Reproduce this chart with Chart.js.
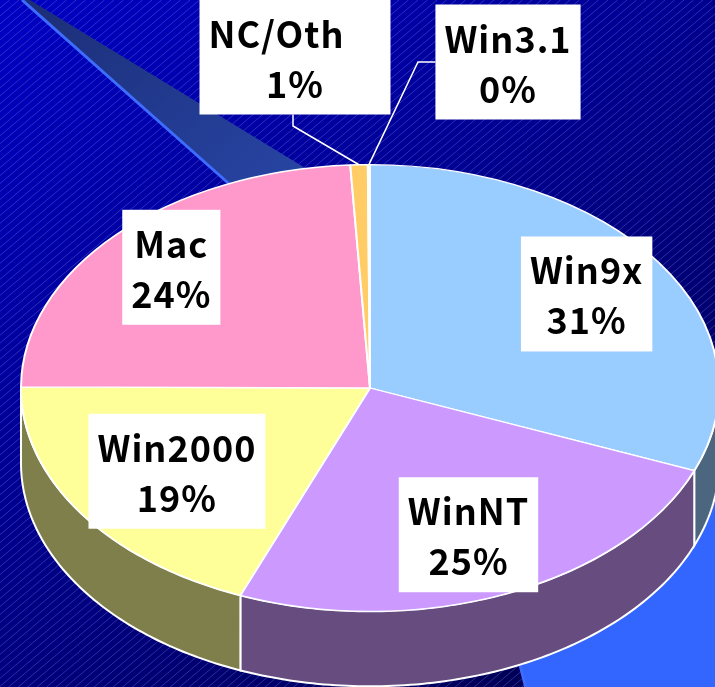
<!DOCTYPE html>
<html>
<head>
<meta charset="utf-8">
<script src="https://cdn.jsdelivr.net/npm/chart.js@4.4.1/dist/chart.umd.min.js"></script>
<style>
  html, body { margin: 0; padding: 0; width: 715px; height: 687px; overflow: hidden; background: #00008c; }
  #wrap { position: absolute; left: 0; top: 0; width: 740px; height: 776px; }
</style>
</head>
<body>
<div id="wrap"><canvas id="chart" width="740" height="776"></canvas></div>
<script>
const categories = ["Win9x", "WinNT", "Win2000", "Mac", "NC/Oth", "Win3.1"];
const shares = [31, 25, 19, 24, 0.8, 0.1];
const topColors = ["#99CCFF", "#CC99FF", "#FFFF99", "#FF99CC", "#FFCC66", "#FFFFFF"];

// where each label goes: inside ones ride the slice's mid angle,
// the two thin slices get a box up top and a leader line
const labelSpots = [
  { r: 0.75 }, { r: 0.715 }, { r: 0.667 }, { r: 0.785 },
  { box: [295, 57], elbow: [293, 126], trail: "\u3000" },
  { box: [508, 62], elbow: [418, 62] },
];

const TILT = 0.64;   // vertical squash of the pie top
const DEPTH = 75;    // thickness of the 3d rim
const FONT = 'bold 36px "Noto Sans CJK JP"';
const PAD_X = 9;
const BOX_H = 115;

function darken(hex) {
  const n = parseInt(hex.slice(1), 16);
  const r = (n >> 16) >> 1, g = ((n >> 8) & 255) >> 1, b = (n & 255) >> 1;
  return `rgb(${r},${g},${b})`;
}

function rimPoint(el, t, dy) {
  return [el.x + el.outerRadius * Math.cos(t), el.y + el.outerRadius * TILT * Math.sin(t) + dy];
}

function beamEdge(ctx) {
  ctx.moveTo(22, 0);
  ctx.lineTo(227, 182);
  ctx.quadraticCurveTo(470, 400, 535, 730);
}

const backdrop = {
  id: "backdrop",
  beforeDraw(chart) {
    const ctx = chart.ctx;
    const w = chart.width, h = chart.height;
    ctx.save();
    const g = ctx.createLinearGradient(0, 0, 500, 700);
    g.addColorStop(0, "#0000c4");
    g.addColorStop(1, "#000058");
    ctx.fillStyle = g;
    ctx.fillRect(0, 0, w, h);

    // thin diagonal hatch
    ctx.strokeStyle = "rgba(170,180,255,0.26)";
    ctx.lineWidth = 1;
    const run = h / 0.84;
    for (let c = 0; c < w + run; c += 9.5) {
      ctx.beginPath();
      ctx.moveTo(c, 0);
      ctx.lineTo(c - run, h);
      ctx.stroke();
    }

    // the light beam sweeping in from the top-left
    const bg = ctx.createLinearGradient(0, 0, 600, 650);
    bg.addColorStop(0, "#1b2c74");
    bg.addColorStop(0.4, "#2846a6");
    bg.addColorStop(0.75, "#3163f5");
    bg.addColorStop(1, "#3366ff");
    ctx.beginPath();
    beamEdge(ctx);
    ctx.lineTo(800, 790);
    ctx.lineTo(800, 470);
    ctx.lineTo(30, 0);
    ctx.closePath();
    ctx.fillStyle = bg;
    ctx.fill();
    ctx.beginPath();
    beamEdge(ctx);
    ctx.strokeStyle = "#3d6cff";
    ctx.lineWidth = 3;
    ctx.stroke();
    ctx.restore();
  },
};

const tilted = {
  id: "tilted",
  beforeDatasetsDraw(chart) {
    const ctx = chart.ctx;
    const meta = chart.getDatasetMeta(0);
    const center = meta.data[0];

    // rim first, only the front half shows
    meta.data.forEach((el, i) => {
      const a = Math.max(el.startAngle, 0);
      const b = Math.min(el.endAngle, Math.PI);
      if (b <= a) return;
      const steps = Math.max(4, Math.ceil((b - a) * 60));
      ctx.beginPath();
      for (let s = 0; s <= steps; s++) {
        const p = rimPoint(el, a + (b - a) * s / steps, 0);
        s === 0 ? ctx.moveTo(p[0], p[1]) : ctx.lineTo(p[0], p[1]);
      }
      for (let s = steps; s >= 0; s--) {
        const p = rimPoint(el, a + (b - a) * s / steps, DEPTH);
        ctx.lineTo(p[0], p[1]);
      }
      ctx.closePath();
      ctx.fillStyle = darken(topColors[i]);
      ctx.fill();
      ctx.strokeStyle = "#ffffff";
      ctx.lineWidth = 2;
      ctx.stroke();
    });

    // squash the top face into an ellipse
    ctx.save();
    ctx.translate(center.x, center.y);
    ctx.scale(1, TILT);
    ctx.translate(-center.x, -center.y);
  },
  afterDatasetsDraw(chart) {
    chart.ctx.restore();
    drawLabels(chart);
  },
};

function drawLabels(chart) {
  const ctx = chart.ctx;
  const meta = chart.getDatasetMeta(0);
  const total = shares.reduce((a, b) => a + b, 0);
  ctx.save();
  ctx.font = FONT;
  ctx.letterSpacing = "1px";
  meta.data.forEach((el, i) => {
    const spot = labelSpots[i];
    const lines = [categories[i] + (spot.trail || ""), Math.round(shares[i] / total * 100) + "%"];
    const w = Math.max(...lines.map(s => ctx.measureText(s).width)) + 2 * PAD_X;
    const mid = (el.startAngle + el.endAngle) / 2;
    let cx, cy;
    if (spot.box) {
      [cx, cy] = spot.box;
    } else {
      cx = el.x + el.outerRadius * spot.r * Math.cos(mid);
      cy = el.y + el.outerRadius * TILT * spot.r * Math.sin(mid);
    }
    const left = cx - w / 2, top = cy - BOX_H / 2;

    if (spot.elbow) {
      const anchor = rimPoint(el, mid, 0);
      const [ex, ey] = spot.elbow;
      const sx = Math.min(Math.max(ex, left), left + w);
      const sy = Math.min(Math.max(ey, top), top + BOX_H);
      ctx.beginPath();
      ctx.moveTo(sx, sy);
      ctx.lineTo(ex, ey);
      ctx.lineTo(anchor[0], anchor[1]);
      ctx.strokeStyle = "#ffffff";
      ctx.lineWidth = 1.5;
      ctx.stroke();
    }

    ctx.fillStyle = "#ffffff";
    ctx.fillRect(left, top, w, BOX_H);
    ctx.fillStyle = "#000000";
    ctx.textAlign = "center";
    ctx.textBaseline = "alphabetic";
    ctx.fillText(lines[0], cx, top + 48);
    ctx.fillText(lines[1], cx, top + 98);
  });
  ctx.restore();
}

function build() {
  new Chart(document.getElementById("chart"), {
    type: "pie",
    data: {
      labels: categories,
      datasets: [{
        data: shares,
        backgroundColor: topColors,
        borderColor: "#ffffff",
        borderWidth: 2,
        clip: false,
      }],
    },
    options: {
      responsive: false,
      animation: false,
      layout: { padding: { left: 20, right: 20, top: 38, bottom: 38 } },
      plugins: {
        legend: { display: false },
        tooltip: { enabled: false },
      },
    },
    plugins: [backdrop, tilted],
  });
}

document.fonts.load(FONT).then(build, build);
</script>
</body>
</html>
